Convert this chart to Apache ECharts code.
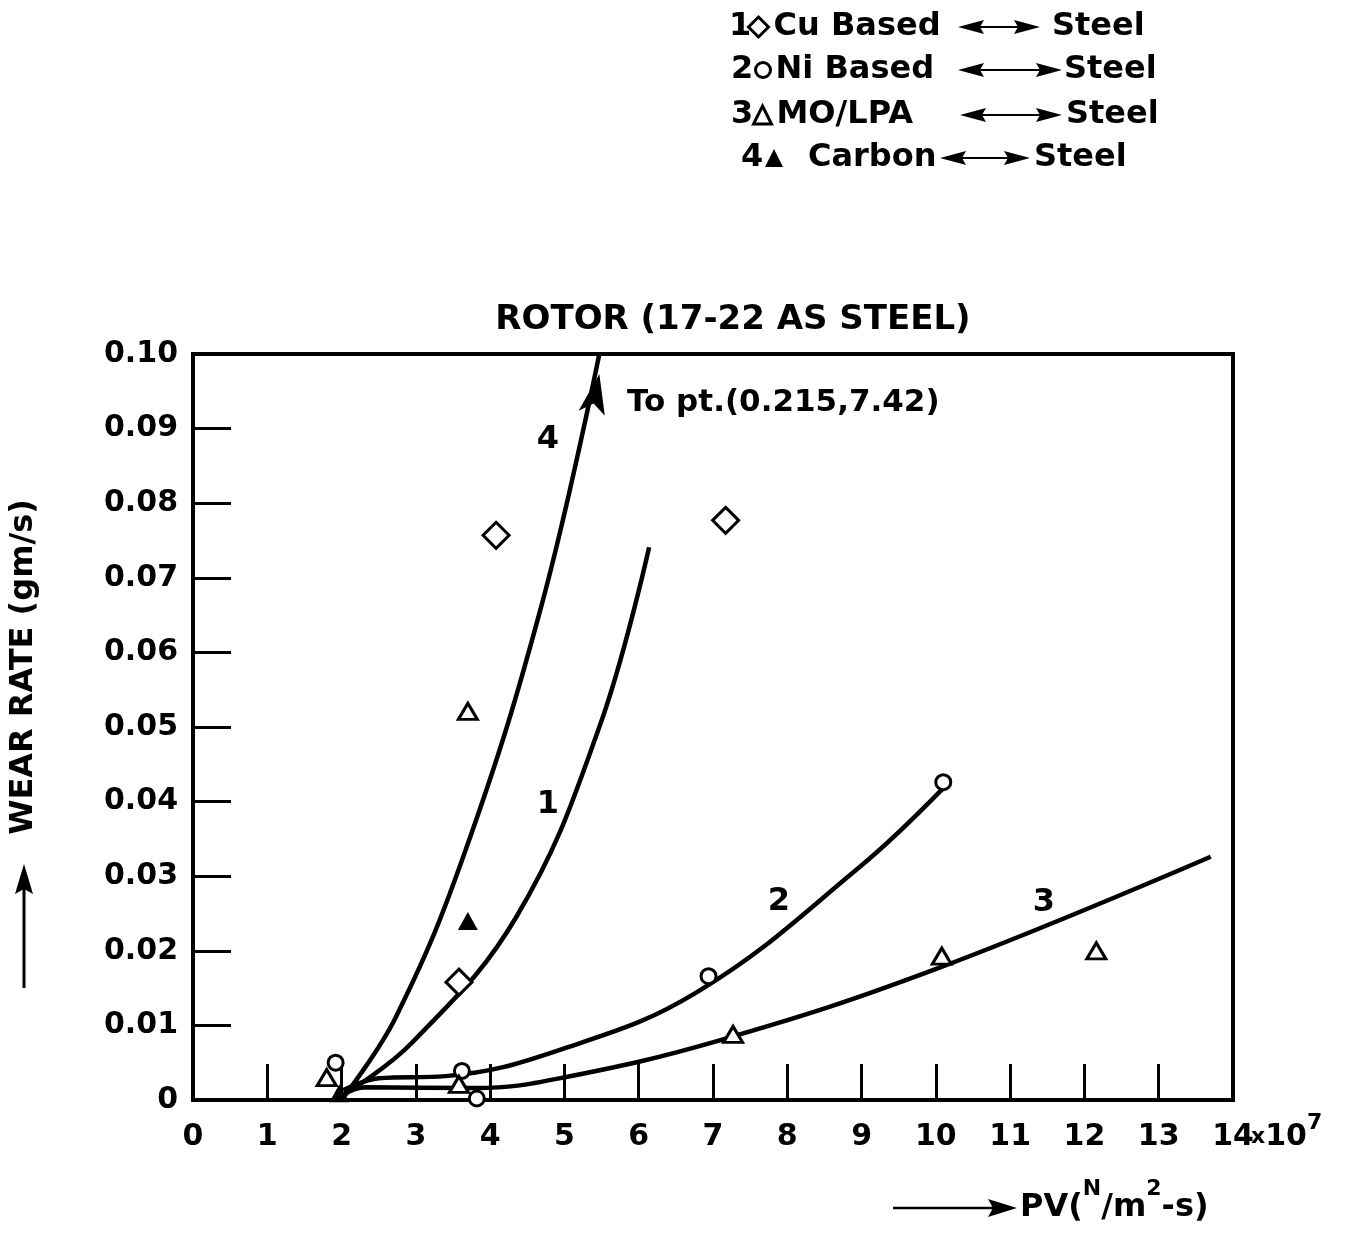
<!DOCTYPE html>
<html><head><meta charset="utf-8">
<script src="https://cdn.jsdelivr.net/npm/echarts@6.0.0/dist/echarts.min.js"></script>
<style>html,body{margin:0;padding:0;background:#fff}#c{width:1349px;height:1237px}</style>
</head><body><div id="c"></div>
<script>
// ---- tick labels ----
const xTickLabels = ['0','1','2','3','4','5','6','7','8','9','10','11','12','13','14'];
const yTickLabels = ['0','0.01','0.02','0.03','0.04','0.05','0.06','0.07','0.08','0.09','0.10'];

// ---- measured points (PV in 1e7 N/m^2-s, wear rate gm/s) ----
const cuX = [3.58, 4.08, 7.17];
const cuY = [0.0158, 0.0757, 0.0777];
const niX = [1.92, 3.62, 3.82, 6.94, 10.1];
const niY = [0.0050, 0.0039, 0.0002, 0.0166, 0.0426];
const moX = [1.80, 3.58, 3.70, 7.27, 10.08, 12.16];
const moY = [0.0030, 0.0021, 0.0521, 0.0088, 0.0193, 0.0200];
const cbX = [1.97, 3.70];
const cbY = [0.0009, 0.0240];

// ---- fitted curves ----
const curve1X = [2.09, 2.94, 4.35, 5.47, 6.14];
const curve1Y = [0.0011, 0.0076, 0.0245, 0.0500, 0.0741];
const curve2X = [2.02, 2.50, 3.40, 4.93, 6.79, 8.97, 10.08];
const curve2Y = [0.0013, 0.0029, 0.0032, 0.0067, 0.0145, 0.0312, 0.0416];
const curve3X = [2.02, 2.32, 3.81, 4.93, 7.09, 9.96, 13.70];
const curve3Y = [0.0007, 0.0017, 0.0016, 0.0029, 0.0080, 0.0174, 0.0326];
const curve4X = [2.02, 2.73, 3.67, 4.70, 5.47];
const curve4Y = [0.0003, 0.0111, 0.0335, 0.0666, 0.1000];

const zip = (xs, ys) => xs.map((x, i) => [x, ys[i]]);
const FF = '"DejaVu Sans", sans-serif';
const BLACK = '#000';

const chart = echarts.init(document.getElementById('c'), null, {renderer: 'canvas'});

const G = [];
function txt(x, y, text, size, extra) {
  G.push(Object.assign({type: 'text', x: x, y: y, silent: true,
    style: Object.assign({text: text, fill: BLACK, fontFamily: FF, fontWeight: 'bold', fontSize: size,
      align: 'left', verticalAlign: 'middle'}, (extra && extra.style) || {})},
    (extra && extra.el) || {}));
}
function line(x1, y1, x2, y2, w) {
  G.push({type: 'line', silent: true, shape: {x1, y1, x2, y2}, style: {stroke: BLACK, lineWidth: w}});
}
function poly(points) {
  G.push({type: 'polygon', silent: true, shape: {points}, style: {fill: BLACK}});
}
function dblArrow(x1, x2, y) {
  line(x1 + 20, y, x2 - 20, y, 2);
  poly([[x1, y], [x1 + 26, y - 7], [x1 + 22, y], [x1 + 26, y + 7]]);
  poly([[x2, y], [x2 - 26, y - 7], [x2 - 22, y], [x2 - 26, y + 7]]);
}

// title
txt(733, 320, 'ROTOR (17-22 AS STEEL)', 34, {style: {align: 'center'}});

// legend numbers, arrows and "Steel"
txt(729, 27, '1', 32); txt(731, 70, '2', 32); txt(731, 115, '3', 32); txt(741, 158, '4', 32);
dblArrow(958, 1040, 27); dblArrow(958, 1062, 70); dblArrow(960, 1062, 115); dblArrow(940, 1030, 158);
txt(1052, 27, 'Steel', 32); txt(1064, 70, 'Steel', 32); txt(1066, 115, 'Steel', 32); txt(1034, 158, 'Steel', 32);

// annotation
txt(627, 403, 'To pt.(0.215,7.42)', 31);

// curve labels
txt(548, 440, '4', 32, {style: {align: 'center'}});
txt(548, 805, '1', 32, {style: {align: 'center'}});
txt(779, 902, '2', 32, {style: {align: 'center'}});
txt(1044, 903, '3', 32, {style: {align: 'center'}});

// y axis title with arrow
txt(24, 667, 'WEAR RATE (gm/s)', 32, {style: {align: 'center'}, el: {rotation: Math.PI / 2}});
line(24, 988, 24, 888, 3);
poly([[24, 864], [33, 894], [24, 889], [15, 894]]);

// x axis title with arrow
line(893, 1208, 1000, 1208, 2.5);
poly([[1017, 1208], [988, 1199], [993, 1208], [988, 1217]]);
G.push({type: 'text', x: 1020, y: 1208, silent: true, style: {
  text: '{n|PV(}{s|N}{n|/m}{s|2}{n|-s)}', align: 'left', verticalAlign: 'middle',
  rich: {
    n: {fontSize: 32, fontWeight: 'bold', fontFamily: FF, fill: BLACK, color: BLACK, lineHeight: 60},
    s: {fontSize: 22, fontWeight: 'bold', fontFamily: FF, fill: BLACK, color: BLACK, lineHeight: 20, verticalAlign: 'top'}
  }}});
// x10^7 multiplier next to last tick label
G.push({type: 'text', x: 1251, y: 1137, silent: true, style: {
  text: '{a|x}{b|10}{e|7}', align: 'left', verticalAlign: 'middle',
  rich: {
    a: {fontSize: 22, fontWeight: 'bold', fontFamily: FF, fill: BLACK, color: BLACK, lineHeight: 50},
    b: {fontSize: 30, fontWeight: 'bold', fontFamily: FF, fill: BLACK, color: BLACK, lineHeight: 50},
    e: {fontSize: 22, fontWeight: 'bold', fontFamily: FF, fill: BLACK, color: BLACK, lineHeight: 20, verticalAlign: 'top'}
  }}});

const openStyle = {color: '#fff', borderColor: BLACK, borderWidth: 3, opacity: 1};
const filledStyle = {color: BLACK, borderWidth: 0, opacity: 1};
const curveStyle = {color: BLACK, width: 4.5, opacity: 1};
function curve(name, xs, ys) {
  return {type: 'line', name: name, data: zip(xs, ys), smooth: 0.4,
    showSymbol: false, symbol: 'none', lineStyle: curveStyle, z: 2, silent: true};
}
const legendText = {fontSize: 32, fontWeight: 'bold', fontFamily: FF, color: BLACK, lineHeight: 32};
function leg(name, icon, left, top, w, h, style, textPad) {
  return {data: [{name: name, icon: icon, itemStyle: style}], left: left, top: top, orient: 'horizontal',
    itemWidth: w, itemHeight: h, padding: 0, selectedMode: false,
    textStyle: Object.assign({}, legendText, textPad ? {padding: textPad} : {})};
}

chart.setOption({
  animation: false,
  backgroundColor: '#fff',
  textStyle: {fontFamily: FF},
  grid: {left: 193, top: 354, width: 1040, height: 746, show: true, borderColor: BLACK, borderWidth: 4,
    backgroundColor: 'transparent', containLabel: false, outerBoundsMode: 'none'},
  legend: [
    leg('Cu Based', 'diamond', 747, 11, 20, 20, openStyle),
    leg('Ni Based', 'circle', 754, 54, 15, 15, openStyle),
    leg('MO/LPA', 'triangle', 752, 99, 18, 18, openStyle),
    leg('Carbon', 'triangle', 765, 142, 18, 18, filledStyle, [0, 0, 0, 20])
  ],
  xAxis: {type: 'value', min: 0, max: 14, interval: 1,
    axisLine: {show: true, onZero: false, lineStyle: {color: BLACK, width: 4}},
    axisTick: {show: true, inside: true, length: 36, lineStyle: {color: BLACK, width: 3}},
    splitLine: {show: false},
    axisLabel: {show: true, margin: 22, color: BLACK, fontSize: 30, fontWeight: 'bold', fontFamily: FF,
      formatter: v => xTickLabels[Math.round(v)]}},
  yAxis: {type: 'value', min: 0, max: 0.1, interval: 0.01,
    axisLine: {show: true, onZero: false, lineStyle: {color: BLACK, width: 4}},
    axisTick: {show: true, inside: true, length: 38, lineStyle: {color: BLACK, width: 3}},
    splitLine: {show: false},
    axisLabel: {show: true, margin: 15, color: BLACK, fontSize: 30, fontWeight: 'bold', fontFamily: FF,
      formatter: v => yTickLabels[Math.round(v * 100)]}},
  graphic: G,
  series: [
    curve('Curve 1', curve1X, curve1Y),
    curve('Curve 2', curve2X, curve2Y),
    curve('Curve 3', curve3X, curve3Y),
    curve('Curve 4', curve4X, curve4Y),
    {type: 'scatter', name: 'Curve 4 arrow', silent: true, z: 4,
      data: [[curve4X[curve4X.length - 1], curve4Y[curve4Y.length - 1]]],
      symbol: 'arrow', symbolSize: [20, 40], symbolRotate: -11, symbolOffset: [0, '50%'],
      itemStyle: filledStyle},
    {type: 'scatter', name: 'Cu Based', data: zip(cuX, cuY), symbol: 'diamond', symbolSize: 26, z: 5, itemStyle: openStyle},
    {type: 'scatter', name: 'Ni Based', data: zip(niX, niY), symbol: 'circle', symbolSize: 15, z: 5, itemStyle: openStyle},
    {type: 'scatter', name: 'MO/LPA', data: zip(moX, moY), symbol: 'triangle', symbolSize: [19, 16], z: 5, itemStyle: openStyle},
    {type: 'scatter', name: 'Carbon', data: zip(cbX, cbY), symbol: 'triangle', symbolSize: [20, 18], z: 5, itemStyle: filledStyle}
  ]
});
</script>
</body></html>
